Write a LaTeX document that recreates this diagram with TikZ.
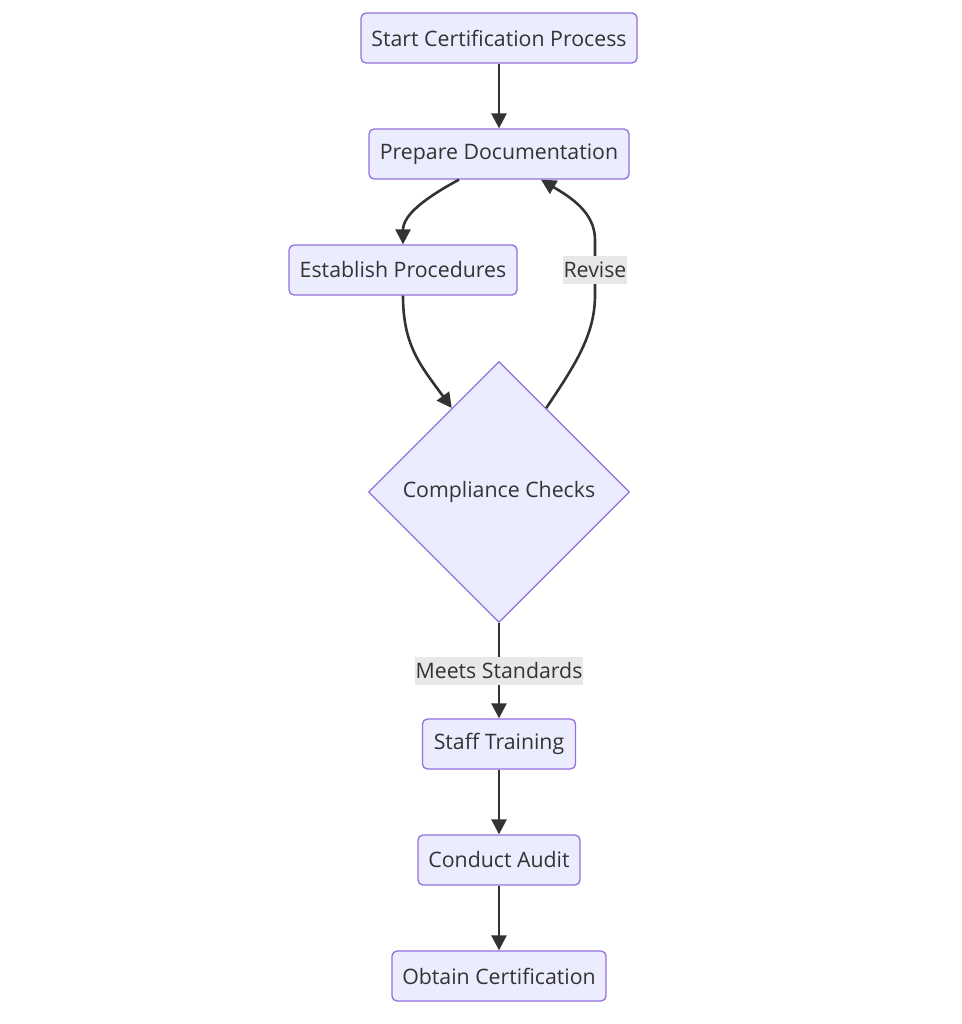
\documentclass[tikz,border=0pt]{standalone}
\usepackage{fontspec}
\setmainfont{Open Sans}
\usetikzlibrary{shapes.geometric,arrows.meta,calc}
\definecolor{nodefill}{HTML}{ECECFF}
\definecolor{nodeline}{HTML}{9370DB}
\definecolor{edgecol}{HTML}{333333}
\definecolor{labelbg}{HTML}{E8E8E8}
\begin{document}
\begin{tikzpicture}[x=1pt,y=-1pt,
  font=\fontsize{21.3}{25}\selectfont,
  box/.style={draw=nodeline,fill=nodefill,line width=1.3pt,rounded corners=5pt,
    text=edgecol,minimum height=50pt,inner sep=0pt,anchor=center},
  decision/.style={diamond,draw=nodeline,fill=nodefill,line width=1.3pt,
    text=edgecol,minimum width=261pt,minimum height=261pt,inner sep=0pt,aspect=1},
  edgelabel/.style={fill=labelbg,text=edgecol,inner sep=0.5pt,minimum height=28pt},
  flow/.style={draw=edgecol,line width=2.6pt,-{Triangle[length=15pt,width=15pt]}}
]
\useasboundingbox (0,0) rectangle (961,1024);
\node[box,minimum width=276pt] (start) at (499,38) {Start Certification Process};
\node[box,minimum width=260pt] (prep) at (499,154) {Prepare Documentation};
\node[box,minimum width=228pt] (est) at (403,270) {Establish Procedures};
\node[decision] (cc) at (499,492) {Compliance Checks};
\node[box,minimum width=153pt] (staff) at (499,744) {Staff Training};
\node[box,minimum width=162pt] (audit) at (499,860) {Conduct Audit};
\node[box,minimum width=214pt] (obtain) at (499,976) {Obtain Certification};

\coordinate (prepL) at ($(prep.south)+(-40,0)$);
\coordinate (prepR) at ($(prep.south)+(42,0)$);
\coordinate (ccL) at ($(cc.west)!0.64!(cc.north)$);
\coordinate (ccR) at ($(cc.east)!0.64!(cc.north)$);

\draw[flow] (start) -- (prep);
\draw[flow] (prepL) .. controls (425,198) and (403,215) .. (est.north);
\draw[flow] (est.south) .. controls (403,345) and (420,365) .. (ccL);
\draw[flow] (ccR) .. controls (575,365) and (595,335) .. (595,295) -- (595,240)
  .. controls (595,212) and (570,197) .. (prepR);
\node[edgelabel] (revise) at (595,270) {Revise};
\draw[flow] (cc.south) -- (staff.north)
  node[pos=0.5,edgelabel] (meets) {Meets Standards};
\draw[flow] (staff) -- (audit);
\draw[flow] (audit) -- (obtain);
\end{tikzpicture}
\end{document}
